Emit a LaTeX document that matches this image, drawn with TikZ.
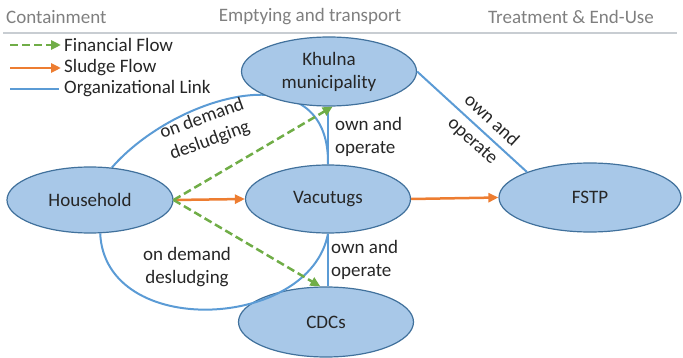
\documentclass[tikz,border=0pt]{standalone}
\usepackage{fontspec}
\setmainfont{Carlito}
\usetikzlibrary{shapes.geometric,arrows.meta,backgrounds}
\definecolor{ellfill}{HTML}{A8C8E8}
\definecolor{ellborder}{HTML}{41719C}
\definecolor{linkblue}{HTML}{5B9BD5}
\definecolor{fingreen}{HTML}{70AD47}
\definecolor{sludgeorange}{HTML}{ED7D31}
\definecolor{headgray}{HTML}{7F7F7F}
\definecolor{rulegray}{HTML}{C8CDD2}
\definecolor{txt}{HTML}{262626}
\begin{document}
\begin{tikzpicture}[x=1pt,y=-1pt,
  every node/.style={font=\fontsize{19}{23}\selectfont, text=txt, inner sep=1pt},
  ell/.style={ellipse, draw=ellborder, fill=ellfill, line width=1.2pt, inner sep=0pt, align=center},
  orglink/.style={draw=linkblue, line width=2pt},
  finflow/.style={draw=fingreen, line width=2.5pt, dash pattern=on 8pt off 4pt, -{Triangle[length=10pt,width=9pt]}},
  sludge/.style={draw=sludgeorange, line width=2.5pt, -{Triangle[length=10pt,width=9pt]}},
  header/.style={text=headgray},
  lbl/.style={align=center},
  lbll/.style={align=left, anchor=west},
]
\useasboundingbox (0,0) rectangle (683,358);

% headers
\node[header, anchor=west] (h1) at (5,17) {Containment};
\node[header] (h2) at (310,17) {Emptying and transport};
\node[header] (h3) at (571,17) {Treatment \& End-Use};
\coordinate (ruleL) at (3,33);
\coordinate (ruleR) at (677,33);
\draw[rulegray, line width=2.5pt] (ruleL) -- (ruleR);

% legend
\node[anchor=west] (lgF) at (63,45) {Financial Flow};
\node[anchor=west] (lgS) at (63,68) {Sludge Flow};
\node[anchor=west] (lgO) at (63,89) {Organizational Link};
\coordinate (lgFa) at (10,45);
\coordinate (lgSa) at (10,68);
\coordinate (lgOa) at (10,89);
\draw[finflow] (lgFa) -- ([xshift=-2pt]lgF.west);
\draw[sludge] (lgSa) -- ([xshift=-2pt]lgS.west);
\draw[orglink] (lgOa) -- ([xshift=-4pt]lgO.west);

% nodes
\node[ell, minimum width=175pt, minimum height=69pt] (kh) at (329,71.5) {Khulna\\municipality};
\node[ell, minimum width=166pt, minimum height=66pt] (hh) at (90,200) {Household};
\node[ell, minimum width=165pt, minimum height=68pt] (vac) at (328,199) {Vacutugs};
\node[ell, minimum width=175pt, minimum height=70pt] (cdc) at (326,322) {CDCs};
\node[ell, minimum width=182pt, minimum height=69pt] (fs) at (590,197.5) {FSTP};

% top arc behind Khulna
\begin{scope}[on background layer]
\draw[orglink] (hh.56) .. controls (175,95) and (330,50) .. (vac.north);
\end{scope}
\node[lbl, rotate=20] (lblTop) at (206,130) {on demand\\desludging};

% bottom arc
\draw[orglink] (hh.-73) .. controls (105,340) and (310,330) .. (vac.south);
\node[lbl] (lblBot) at (187,267) {on demand\\desludging};

% own and operate links
\draw[orglink] (vac.north) -- (vac.north |- kh.south);
\node[lbll] (lblOA1) at (334,136.5) {own and\\operate};
\draw[orglink] (vac.south) -- (vac.south |- cdc.north);
\node[lbll] (lblOA2) at (330,260) {own and\\operate};
\draw[orglink] (kh.east) -- (fs.158) node[lbl, pos=0.59, sloped, font=\fontsize{19}{28}\selectfont] (lblOA3) {own and\\operate};

% flows
\draw[sludge] (hh.east) -- (vac.west);
\draw[sludge] (vac.east) -- (fs.west);
\draw[finflow] (hh.east) -- (kh.-84);
\draw[finflow] (hh.east) -- (cdc.99);
\end{tikzpicture}
\end{document}
